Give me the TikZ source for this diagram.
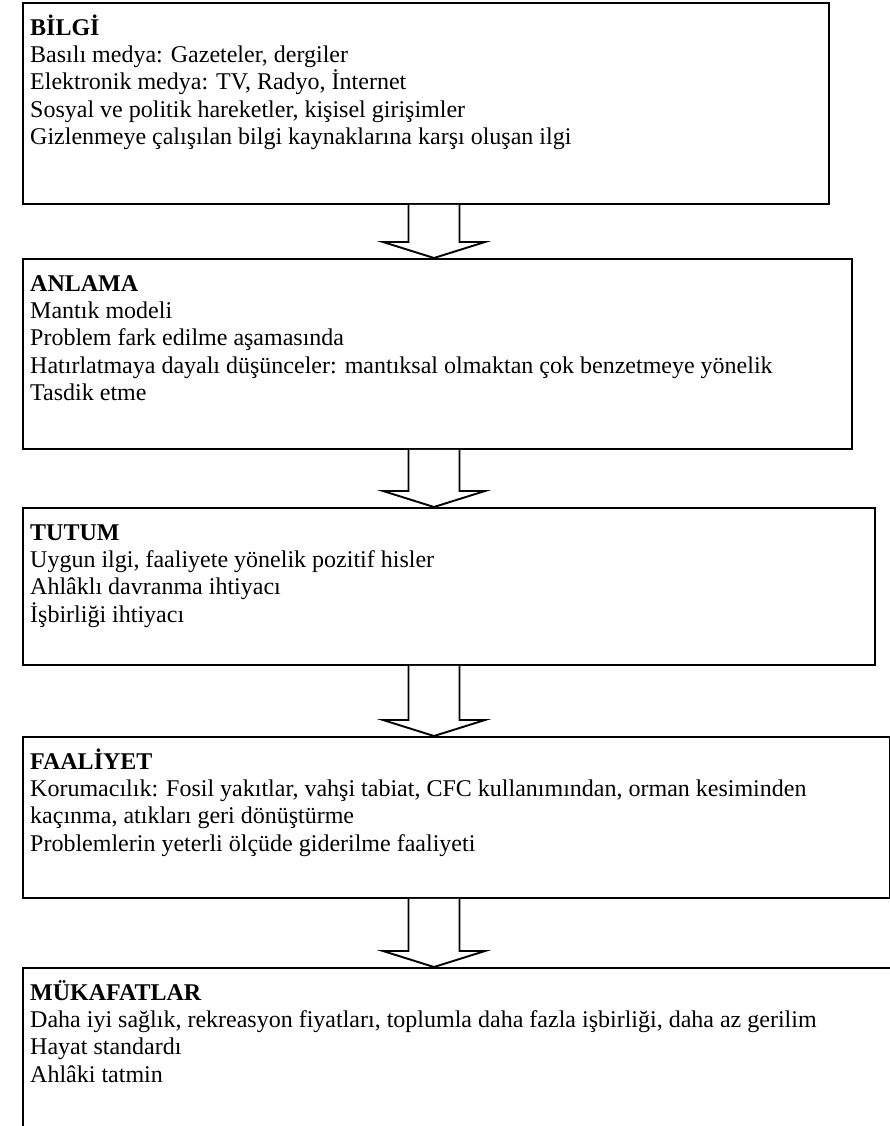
\documentclass[tikz,border=0pt]{standalone}
\usepackage{fontspec}
\setmainfont{Liberation Serif}
\usetikzlibrary{calc}

\tikzset{
  stagebox/.style={draw, line width=1.9pt, anchor=north west, inner sep=0pt},
  stagetext/.style={anchor=north west, align=left, inner sep=0pt,
    font=\fontsize{24}{27.3}\selectfont},
  flowarrow/.style={draw, line width=1.9pt, fill=white, line join=miter},
}
\newcommand{\toprule}{\rule{0pt}{22pt}}
% block arrow from the bottom of #1 to the top of #2
\newcommand{\flowstep}[2]{%
  \draw[flowarrow] ($(#1.south -| ax)+(-25.5,0)$) -- ($(#2.north -| ax)+(-25.5,16)$)
    -- ($(#2.north -| ax)+(-51,16)$) -- (#2.north -| ax)
    -- ($(#2.north -| ax)+(51,16)$) -- ($(#2.north -| ax)+(25.5,16)$)
    -- ($(#1.south -| ax)+(25.5,0)$);}

\begin{document}
\begin{tikzpicture}[x=1pt, y=1pt]
  \useasboundingbox (0,0) rectangle (890,-1126);
  \coordinate (ax) at (434,0);

  \node[stagebox, minimum width=806, minimum height=201] (bilgi) at (22,-2) {};
  \node[stagebox, minimum width=829, minimum height=190] (anlama) at (22,-258) {};
  \node[stagebox, minimum width=852, minimum height=157] (tutum) at (22,-507) {};
  \node[stagebox, minimum width=867, minimum height=161] (faaliyet) at (22,-736) {};
  \node[stagebox, minimum width=880, minimum height=170] (mukafat) at (22,-967) {};

  \node[stagetext] (bilgitext) at ([xshift=8,yshift=-11]bilgi.north west)
    {\toprule\textbf{BİLGİ}\\
     Basılı medya: Gazeteler, dergiler\\
     Elektronik medya: TV, Radyo, İnternet\\
     Sosyal ve politik hareketler, kişisel girişimler\\
     Gizlenmeye çalışılan bilgi kaynaklarına karşı oluşan ilgi};
  \node[stagetext] (anlamatext) at ([xshift=8,yshift=-11]anlama.north west)
    {\toprule\textbf{ANLAMA}\\
     Mantık modeli\\
     Problem fark edilme aşamasında\\
     Hatırlatmaya dayalı düşünceler: mantıksal olmaktan çok benzetmeye yönelik\\
     Tasdik etme};
  \node[stagetext] (tutumtext) at ([xshift=8,yshift=-11]tutum.north west)
    {\toprule\textbf{TUTUM}\\
     Uygun ilgi, faaliyete yönelik pozitif hisler\\
     Ahlâklı davranma ihtiyacı\\
     İşbirliği ihtiyacı};
  \node[stagetext] (faaliyettext) at ([xshift=8,yshift=-11]faaliyet.north west)
    {\toprule\textbf{FAALİYET}\\
     Korumacılık: Fosil yakıtlar, vahşi tabiat, CFC kullanımından, orman kesiminden\\
     kaçınma, atıkları geri dönüştürme\\
     Problemlerin yeterli ölçüde giderilme faaliyeti};
  \node[stagetext] (mukafattext) at ([xshift=8,yshift=-11]mukafat.north west)
    {\toprule\textbf{MÜKAFATLAR}\\
     Daha iyi sağlık, rekreasyon fiyatları, toplumla daha fazla işbirliği, daha az gerilim\\
     Hayat standardı\\
     Ahlâki tatmin};

  \flowstep{bilgi}{anlama}
  \flowstep{anlama}{tutum}
  \flowstep{tutum}{faaliyet}
  \flowstep{faaliyet}{mukafat}
\end{tikzpicture}
\end{document}
